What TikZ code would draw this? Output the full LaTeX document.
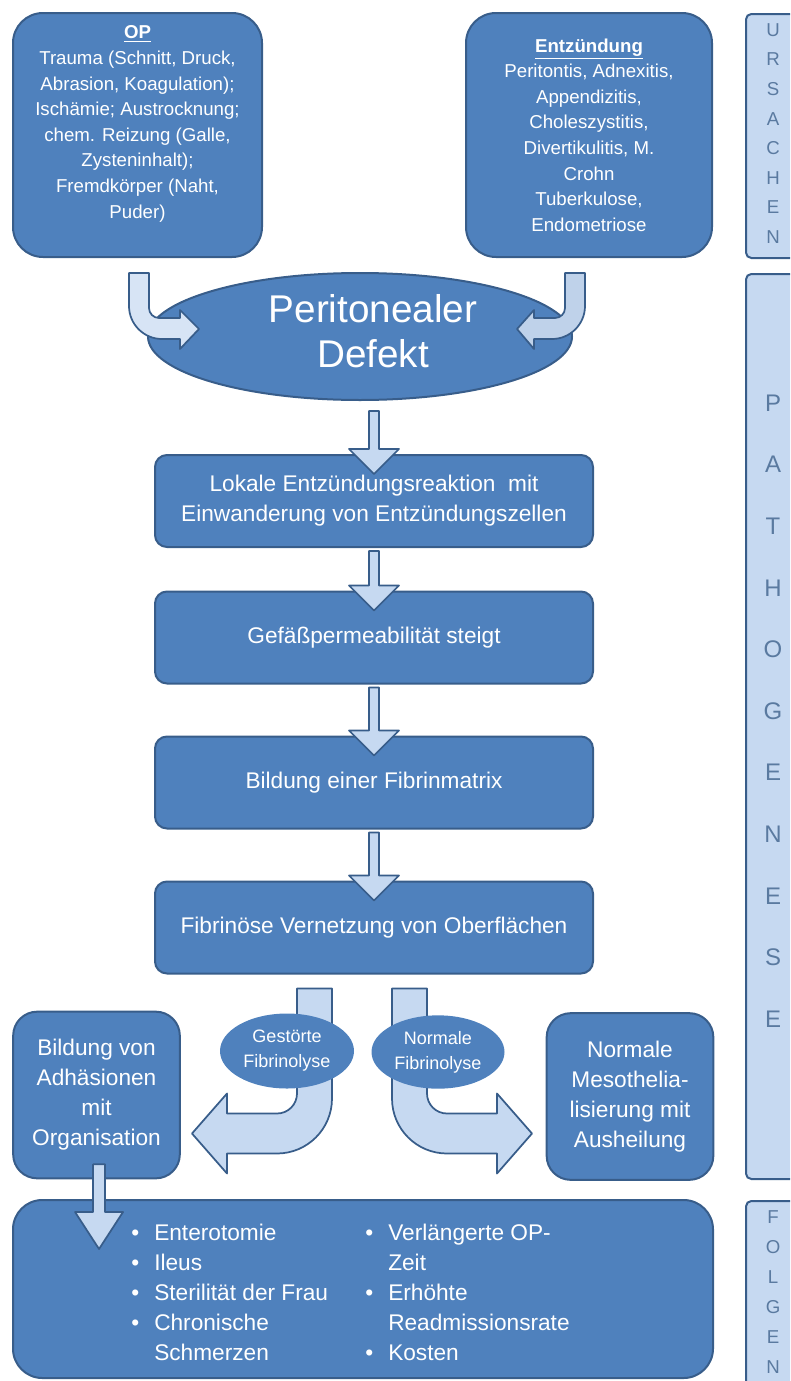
\documentclass[tikz,border=0pt]{standalone}
\usepackage{fontspec}
\setmainfont{Liberation Sans}
\usetikzlibrary{calc,shapes.geometric}
\definecolor{mainblue}{HTML}{4F81BD}
\definecolor{darkblue}{HTML}{385D8A}
\definecolor{lightblue}{HTML}{C6D9F1}
\definecolor{paleblue}{HTML}{D7E4F5}
\definecolor{midlight}{HTML}{BFD2EA}
\definecolor{bartext}{HTML}{5A7AA0}
\newcommand\bul{\makebox[17.25pt][l]{•}}
\newcommand\downblock[3]{%
  \draw[barrow] let \p1=(#1.south), \p2=(#2.north) in
    (\x2-3.75pt,\y1-#3) -- (\x2+3.75pt,\y1-#3) -- (\x2+3.75pt,\y2+3.75pt)
    -- (\x2+18.75pt,\y2+3.75pt) -- (\x2,\y2-15pt) -- (\x2-18.75pt,\y2+3.75pt)
    -- (\x2-3.75pt,\y2+3.75pt) -- cycle;}
\tikzset{
  base/.style={draw=darkblue, line width=1.5pt, text=white, align=center, inner sep=0pt},
  bigbox/.style={base, fill=mainblue, rounded corners=22.5pt, font=\fontsize{14pt}{19.2pt}\selectfont},
  flow/.style={base, fill=mainblue, rounded corners=9pt, minimum width=328.5pt, minimum height=69pt, font=\fontsize{17pt}{22.5pt}\selectfont},
  side/.style={base, fill=mainblue, rounded corners=18pt, minimum width=125pt, minimum height=125pt, font=\fontsize{17pt}{22.5pt}\selectfont},
  oval/.style={ellipse, fill=mainblue, text=white, align=center, inner sep=0pt, font=\fontsize{13.5pt}{18.75pt}\selectfont},
  bar/.style={draw=darkblue, fill=lightblue, line width=1.5pt, rounded corners=4pt, anchor=north west, minimum width=60pt, inner sep=0pt},
  bartxt/.style={text=bartext, align=center, inner sep=0pt},
  barrow/.style={draw=darkblue, fill=lightblue, line width=1.3pt, line join=round},
  txt/.style={text=white, align=center, inner sep=0pt},
  listtxt/.style={text=white, align=left, inner sep=0pt, anchor=north west, font=\fontsize{17pt}{22.5pt}\selectfont}
}
\begin{document}
\begin{tikzpicture}[x=0.75pt,y=-0.75pt]
\useasboundingbox (0,0) rectangle (790,1381);
\clip (0,0) rectangle (790,1381);

% side bars
\node[bar, minimum height=183pt] (urs) at (745,13) {};
\node[bartxt, font=\fontsize{14pt}{22.2pt}\selectfont] (urstxt) at (773,133.5) {U\\R\\S\\A\\C\\H\\E\\N};
\node[bar, minimum height=678.75pt] (pat) at (745,273) {};
\node[bartxt, font=\fontsize{18pt}{46.2pt}\selectfont] (pattxt) at (773,711) {P\\A\\T\\H\\O\\G\\E\\N\\E\\S\\E};
\node[bar, minimum height=160pt] (fol) at (745,1200) {};
\node[bartxt, font=\fontsize{14pt}{22.5pt}\selectfont] (foltxt) at (773,1292) {F\\O\\L\\G\\E\\N};

% cause boxes
\node[bigbox, minimum width=186.75pt, minimum height=183pt] (op) at (137.5,135) {};
\node[txt, font=\fontsize{14pt}{19.2pt}\selectfont] (optxt) at (137.5,124) {\underline{\textbf{OP}}\\Trauma (Schnitt, Druck,\\Abrasion, Koagulation);\\Ischämie; Austrocknung;\\chem. Reizung (Galle,\\Zysteninhalt);\\Fremdkörper (Naht,\\Puder)};
\node[bigbox, minimum width=184.5pt, minimum height=183pt] (ent) at (589,135) {\underline{\textbf{Entzündung}}\\Peritontis, Adnexitis,\\Appendizitis,\\Choleszystitis,\\Divertikulitis, M.\\Crohn\\Tuberkulose,\\Endometriose};

% defect ellipse
\node[ellipse, draw=darkblue, line width=1.5pt, fill=mainblue, inner sep=0pt,
      minimum width=318pt, minimum height=95.25pt] (defekt) at (360,336.5) {};
\node[txt, font=\fontsize{29pt}{34pt}\selectfont] (defekttxt) at (373,331) {Peritonealer\\Defekt};

% curved arrows into ellipse
\begin{scope}[shift={($(op.south)+(-8.5,15)$)}]
\draw[barrow, fill=paleblue] (0,0) -- (20,0) -- (20,35) .. controls (20,40.5) and (24.5,45) .. (30,45)
  -- (51,45) -- (51,37) -- (70,56) -- (51,76) -- (51,66) -- (33,66)
  .. controls (14.8,66) and (0,51.2) .. (0,33) -- cycle;
\end{scope}
\begin{scope}[shift={($(ent.south)+(-4,15)$)}, xscale=-1]
\draw[barrow, fill=midlight] (0,0) -- (20,0) -- (20,35) .. controls (20,40.5) and (24.5,45) .. (30,45)
  -- (51,45) -- (51,37) -- (68,56) -- (51,76) -- (51,66) -- (33,66)
  .. controls (14.8,66) and (0,51.2) .. (0,33) -- cycle;
\end{scope}

% flow boxes
\node[flow] (b1) at (374,501) {Lokale Entzündungsreaktion\ \ mit\\Einwanderung von Entzündungszellen};
\node[flow] (b2) at (374,637.5) {Gefäßpermeabilität steigt};
\node[flow] (b3) at (374,782.5) {Bildung einer Fibrinmatrix};
\node[flow] (b4) at (374,927.5) {Fibrinöse Vernetzung von Oberflächen};

\downblock{defekt}{b1}{7.5pt}
\downblock{b1}{b2}{2.25pt}
\downblock{b2}{b3}{2.25pt}
\downblock{b3}{b4}{2.25pt}

% outcome boxes
\node[side] (adh) at (96.5,1095) {Bildung von\\Adhäsionen\\mit\\Organisation};
\node[side] (norm) at (630,1096.5) {Normale\\Mesothelia-\\lisierung mit\\Ausheilung};

% U-shaped arrows
\begin{scope}[shift={($(b4.south)+(18,14)$)}]
\draw[barrow] (0,0) -- (35,0) -- (35,105) .. controls (35,116.05) and (43.95,125) .. (55,125)
  -- (105,125) -- (105,105) -- (140,145) -- (105,185) -- (105,165) -- (55,165)
  .. controls (24.62,165) and (0,140.38) .. (0,110) -- cycle;
\end{scope}
\begin{scope}[shift={($(b4.south)+(-42,14)$)}, xscale=-1]
\draw[barrow] (0,0) -- (35,0) -- (35,105) .. controls (35,116.05) and (43.95,125) .. (55,125)
  -- (105,125) -- (105,105) -- (140,145) -- (105,185) -- (105,165) -- (55,165)
  .. controls (24.62,165) and (0,140.38) .. (0,110) -- cycle;
\end{scope}
\node[oval, minimum width=100.5pt, minimum height=56.25pt] (gest) at (287,1051) {Gestörte\\Fibrinolyse};
\node[oval, minimum width=99.75pt, minimum height=55pt] (nfib) at (438,1052) {Normale\\Fibrinolyse};

% consequences box
\node[base, fill=mainblue, rounded corners=22pt, minimum width=525pt, minimum height=133.5pt] (folg) at (363,1289) {};
\draw[barrow] let \p1=(adh.south), \p2=(folg.north) in
  (\x1-2.6pt,\y1+11.25pt) -- (\x1+6.4pt,\y1+11.25pt) -- (\x1+6.4pt,\y2-9.75pt)
  -- (\x1+19.9pt,\y2-9.75pt) -- (\x1+1.9pt,\y2-37.5pt) -- (\x1-16.1pt,\y2-9.75pt)
  -- (\x1-2.6pt,\y2-9.75pt) -- cycle;
\node[listtxt] (col1) at (131,1219) {\strut\bul Enterotomie\\\bul Ileus\\\bul Sterilität der Frau\\\bul Chronische\\\hspace*{17.25pt}Schmerzen};
\node[listtxt] (col2) at (365,1219) {\strut\bul Verlängerte OP-\\\hspace*{17.25pt}Zeit\\\bul Erhöhte\\\hspace*{17.25pt}Readmissionsrate\\\bul Kosten};
\end{tikzpicture}
\end{document}
